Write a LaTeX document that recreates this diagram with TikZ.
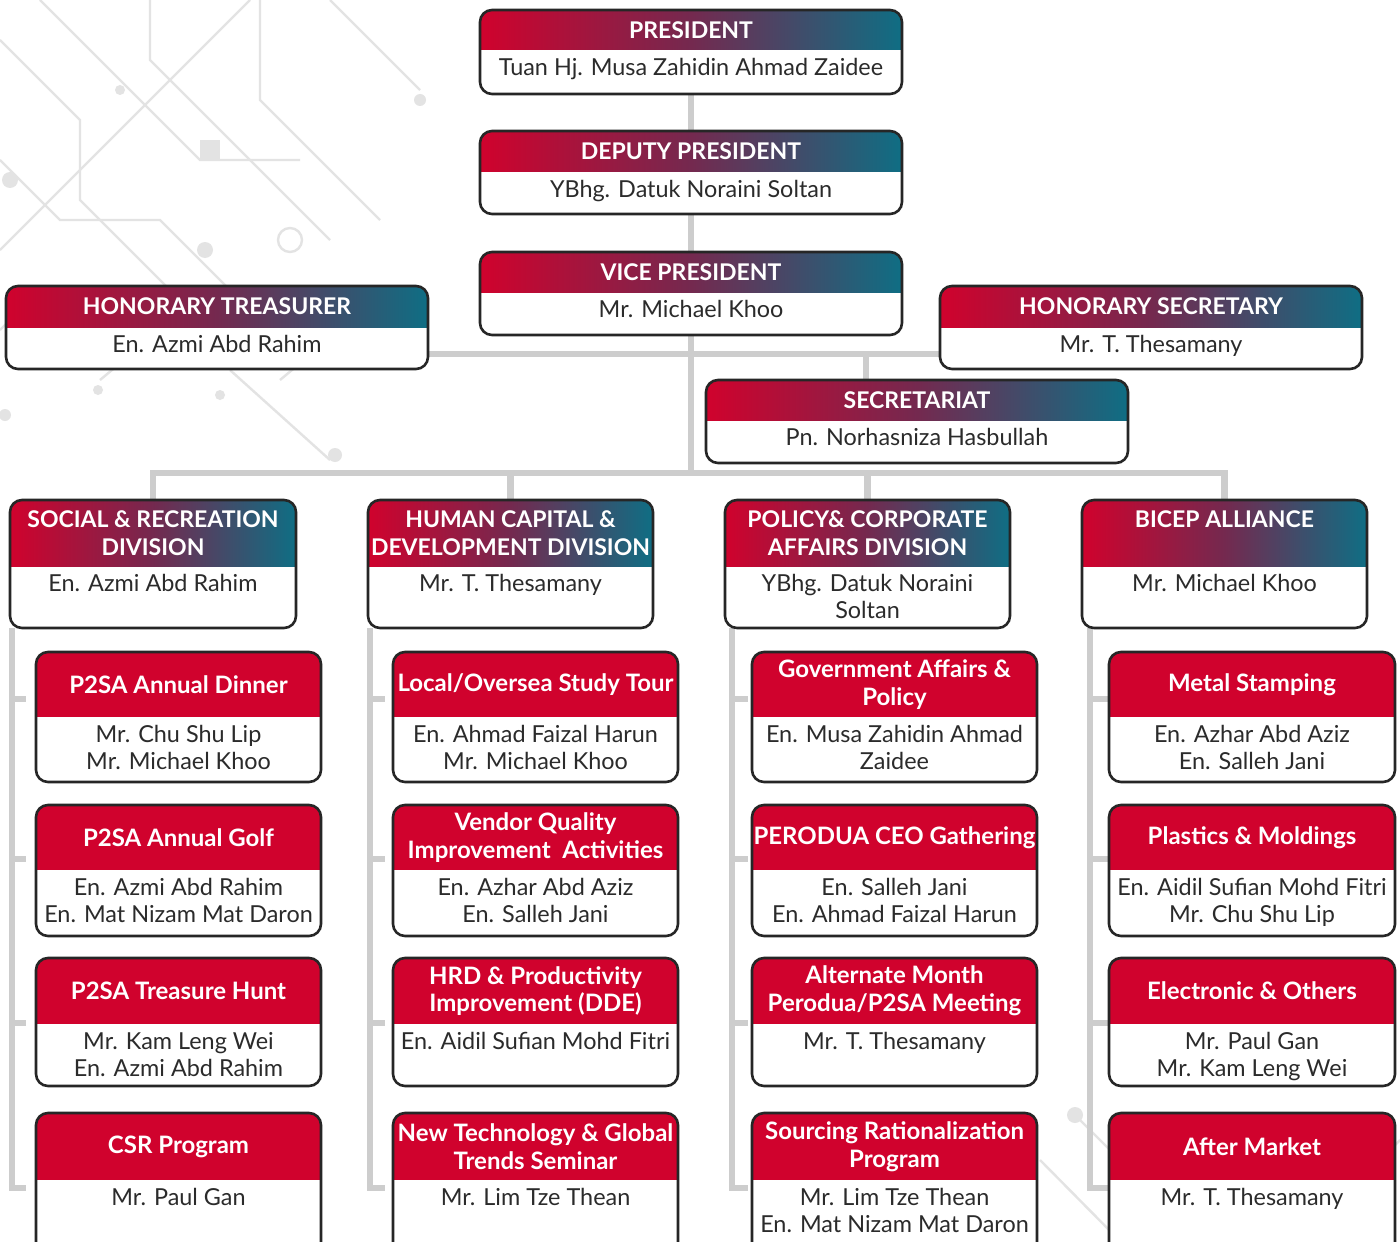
\documentclass[tikz,border=0pt]{standalone}
\usepackage{fontspec}
\setmainfont{Lato}
\usetikzlibrary{calc,fit}
\pgfdeclarelayer{decolayer}
\pgfdeclarelayer{connlayer}
\pgfsetlayers{decolayer,connlayer,main}
\definecolor{crim}{HTML}{D0022D}
\definecolor{tealc}{HTML}{0F6E84}
\definecolor{midc}{HTML}{74294F}
\definecolor{bord}{HTML}{262626}
\definecolor{conc}{HTML}{CDCDCD}
\definecolor{txt}{HTML}{2B2B2B}
\definecolor{deco}{HTML}{E3E3E3}
\tikzset{
  grad/.style={left color=crim, right color=tealc, middle color=midc},
  solidred/.style={fill=crim},
  gradhead/.style={font=\bfseries\fontsize{11.5}{13.8}\selectfont},
  solidredhead/.style={font=\bfseries\fontsize{12}{13.8}\selectfont},
  boxborder/.style={draw=bord, line width=1.3pt, rounded corners=6pt},
  headtext/.style={text=white, align=center, inner sep=0pt},
  bodytext/.style={text=txt, font=\fontsize{11.7}{13.5}\selectfont, align=center, inner sep=0pt},
  conn/.style={draw=conc, line width=3.2pt},
  decoline/.style={draw=deco, line width=1.2pt},
  decodot/.style={fill=deco},
}
% #1 name, #2 x1, #3 y1, #4 x2, #5 y2, #6 header bottom, #7 header fill, #8 header text, #9 body text
\newcommand\orgbox[9]{%
  \coordinate (#1-nw) at (#2,#3);
  \coordinate (#1-se) at (#4,#5);
  \node[fit=(#1-nw)(#1-se), inner sep=0pt, outer sep=0pt] (#1) {};
  \begin{scope}
    \clip[rounded corners=6pt] (#1.north west) rectangle (#1.south east);
    \fill[white] (#1.north west) rectangle (#1.south east);
    \fill[#7] (#2,#3) rectangle (#4,#6);
  \end{scope}
  \draw[boxborder] (#1.north west) rectangle (#1.south east);
  \node[headtext, #7head] (#1-h) at ({(#2+#4)/2},{(#3+#6)/2}) {#8};
  \node[bodytext, anchor=north] (#1-b) at ({(#2+#4)/2},{#6+8}) {#9};
}
% column bracket: #1 division, #2 line x, #3..#6 sub boxes, #7 gap before box
\newcommand\colbracket[7]{%
  \coordinate (#1-top) at (#2,628);
  \draw[conn] (#1-top) -- (#2,1188) -- ($(#6.west |- 0,1188)+(-#7,0)$);
  \draw[conn] (#2,699) -- ($(#3.west |- 0,699)+(-#7,0)$);
  \draw[conn] (#2,859) -- ($(#4.west |- 0,859)+(-#7,0)$);
  \draw[conn] (#2,1023) -- ($(#5.west |- 0,1023)+(-#7,0)$);
}
\begin{document}
\begin{tikzpicture}[x=0.5pt,y=-0.5pt]
\useasboundingbox (0,0) rectangle (1400,1241);
\clip (0,0) rectangle (1400,1241);
\begin{pgfonlayer}{decolayer}
\fill[white] (0,0) rectangle (1400,1241);
% background circuit decoration
\draw[decoline] (0,40) -- (80,120) -- (80,200) -- (200,320);
\draw[decoline] (40,0) -- (200,160) -- (300,160);
\draw[decoline] (150,0) -- (150,60) -- (330,240);
\draw[decoline] (0,160) -- (60,220) -- (160,220) -- (250,310);
\draw[decoline] (260,0) -- (260,100) -- (380,220);
\draw[decoline] (330,0) -- (420,90);
\draw[decoline] (0,330) -- (40,290);
\draw[decoline] (0,250) -- (120,130) -- (220,30) -- (250,0);
\draw[decoline] (230,370) -- (330,460);
\draw[decoline] (280,380) -- (340,330);
\draw[decoline] (100,380) -- (160,330);
\draw[decoline] (1040,1160) -- (1120,1241);
\draw[decoline] (1075,1115) -- (1150,1190) -- (1230,1190);
\draw[decoline] (1300,1241) -- (1400,1140);
\draw[decoline] (1180,1241) -- (1260,1160);
\fill[decodot] (205,250) circle (8);
\draw[decoline] (290,240) circle (12);
\fill[decodot] (10,180) circle (8);
\fill[decodot] (420,100) circle (6);
\fill[decodot] (335,455) circle (7);
\fill[decodot] (220,395) circle (5);
\fill[decodot] (98,390) circle (5);
\fill[decodot] (5,415) circle (6);
\fill[decodot] (120,90) circle (5);
\fill[decodot] (1075,1115) circle (8);
\draw[decoline] (1190,1232) circle (10);
\fill[decodot] (1290,1200) circle (6);
\fill[decodot] (200,140) rectangle (220,160);
\end{pgfonlayer}
% ---------- boxes ----------
\orgbox{pres}{480}{10}{902}{94}{50}{grad}{PRESIDENT}{Tuan Hj. Musa Zahidin Ahmad Zaidee}
\orgbox{dep}{480}{131}{902}{214}{172}{grad}{DEPUTY PRESIDENT}{YBhg. Datuk Noraini Soltan}
\orgbox{vp}{480}{252}{902}{335}{292}{grad}{VICE PRESIDENT}{Mr. Michael Khoo}
\orgbox{treas}{6}{286}{428}{369}{327}{grad}{HONORARY TREASURER}{En. Azmi Abd Rahim}
\orgbox{hsec}{940}{286}{1362}{369}{327}{grad}{HONORARY SECRETARY}{Mr. T. Thesamany}
\orgbox{secr}{706}{380}{1128}{463}{420}{grad}{SECRETARIAT}{Pn. Norhasniza Hasbullah}
% divisions
\orgbox{soc}{10}{500}{296}{628}{566}{grad}{SOCIAL \& RECREATION\\DIVISION}{En. Azmi Abd Rahim}
\orgbox{hc}{368}{500}{653}{628}{566}{grad}{HUMAN CAPITAL \&\\DEVELOPMENT DIVISION}{Mr. T. Thesamany}
\orgbox{pol}{725}{500}{1010}{628}{566}{grad}{POLICY\& CORPORATE\\AFFAIRS DIVISION}{YBhg. Datuk Noraini\\Soltan}
\orgbox{bic}{1082}{500}{1367}{628}{566}{grad}{BICEP ALLIANCE\\\phantom{B}}{Mr. Michael Khoo}
% column 1
\orgbox{a1}{36}{652}{321}{782}{717}{solidred}{P2SA Annual Dinner}{Mr. Chu Shu Lip\\Mr. Michael Khoo}
\orgbox{a2}{36}{805}{321}{936}{870}{solidred}{P2SA Annual Golf}{En. Azmi Abd Rahim\\En. Mat Nizam Mat Daron}
\orgbox{a3}{36}{958}{321}{1086}{1024}{solidred}{P2SA Treasure Hunt}{Mr. Kam Leng Wei\\En. Azmi Abd Rahim}
\orgbox{a4}{36}{1113}{321}{1256}{1180}{solidred}{CSR Program}{Mr. Paul Gan}
% column 2
\orgbox{b1}{393}{652}{678}{782}{717}{solidred}{Local/Oversea Study Tour}{En. Ahmad Faizal Harun\\Mr. Michael Khoo}
\orgbox{b2}{393}{805}{678}{936}{870}{solidred}{Vendor Quality\\Improvement\ \ Activities}{En. Azhar Abd Aziz\\En. Salleh Jani}
\orgbox{b3}{393}{958}{678}{1086}{1024}{solidred}{HRD \& Productivity\\Improvement (DDE)}{En. Aidil Sufian Mohd Fitri}
\orgbox{b4}{393}{1113}{678}{1256}{1180}{solidred}{New Technology \& Global\\Trends Seminar}{Mr. Lim Tze Thean}
% column 3
\orgbox{c1}{752}{652}{1037}{782}{717}{solidred}{Government Affairs \&\\Policy}{En. Musa Zahidin Ahmad\\Zaidee}
\orgbox{c2}{752}{805}{1037}{936}{870}{solidred}{PERODUA CEO Gathering}{En. Salleh Jani\\En. Ahmad Faizal Harun}
\orgbox{c3}{752}{958}{1037}{1086}{1024}{solidred}{Alternate Month\\Perodua/P2SA Meeting}{Mr. T. Thesamany}
\orgbox{c4}{752}{1113}{1037}{1256}{1180}{solidred}{Sourcing Rationalization\\Program}{Mr. Lim Tze Thean\\En. Mat Nizam Mat Daron}
% column 4
\orgbox{d1}{1109}{652}{1395}{782}{717}{solidred}{Metal Stamping}{En. Azhar Abd Aziz\\En. Salleh Jani}
\orgbox{d2}{1109}{805}{1395}{936}{870}{solidred}{Plastics \& Moldings}{En. Aidil Sufian Mohd Fitri\\Mr. Chu Shu Lip}
\orgbox{d3}{1109}{958}{1395}{1086}{1024}{solidred}{Electronic \& Others}{Mr. Paul Gan\\Mr. Kam Leng Wei}
\orgbox{d4}{1109}{1113}{1395}{1256}{1180}{solidred}{After Market}{Mr. T. Thesamany}
% ---------- connectors (behind boxes) ----------
\begin{pgfonlayer}{connlayer}
\coordinate (j1) at (691,354);
\coordinate (j2) at (866,354);
\coordinate (bus) at (691,473);
\draw[conn] (pres.south) -- (dep.north);
\draw[conn] (dep.south) -- (vp.north);
\draw[conn] (vp.south) -- (bus);
\draw[conn] (treas.east |- j1) -- (hsec.west |- j1);
\draw[conn] (j2) -- (j2 |- secr.north);
\draw[conn] (soc.north) -- (soc.north |- bus) -- (bic.north |- bus) -- (bic.north);
\draw[conn] (hc.north |- bus) -- (hc.north);
\draw[conn] (pol.north |- bus) -- (pol.north);
\colbracket{soc}{12}{a1}{a2}{a3}{a4}{10}
\colbracket{hc}{370}{b1}{b2}{b3}{b4}{8}
\colbracket{pol}{732}{c1}{c2}{c3}{c4}{4}
\colbracket{bic}{1090}{d1}{d2}{d3}{d4}{0}
\end{pgfonlayer}
\end{tikzpicture}
\end{document}
